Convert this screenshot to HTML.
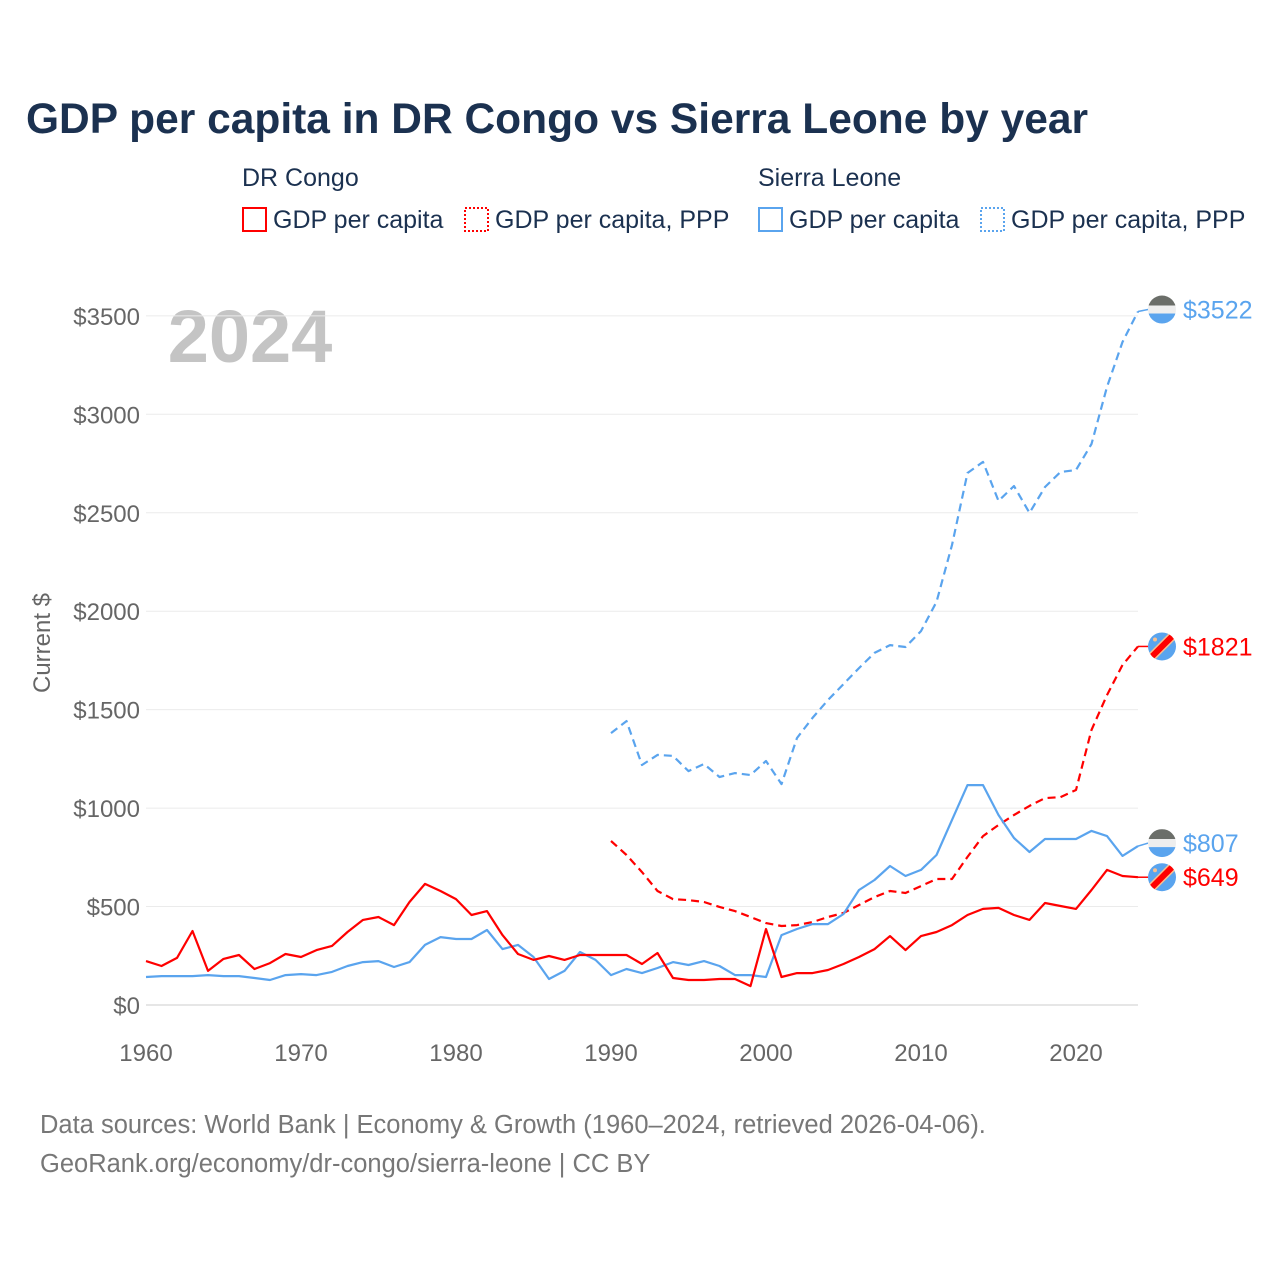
<!DOCTYPE html>
<html><head><meta charset="utf-8"><style>
body{margin:0;background:#fff;font-family:"Liberation Sans",sans-serif;}
svg text{font-family:"Liberation Sans",sans-serif;}
</style></head><body>
<svg width="1280" height="1280" viewBox="0 0 1280 1280" xmlns="http://www.w3.org/2000/svg">
<text x="26" y="133" font-size="42.5" font-weight="bold" fill="#1b3150">GDP per capita in DR Congo vs Sierra Leone by year</text>
<g font-size="25" fill="#1b3150">
<text x="242" y="186">DR Congo</text>
<text x="758" y="186">Sierra Leone</text>
<g><rect x="243" y="208" width="23" height="23" fill="none" stroke="#ff0000" stroke-width="2"/><text x="273" y="228">GDP per capita</text></g>
<g><rect x="465" y="208" width="23" height="23" fill="none" stroke="#ff0000" stroke-width="2" stroke-dasharray="2,2"/><text x="495" y="228">GDP per capita, PPP</text></g>
<g><rect x="759" y="208" width="23" height="23" fill="none" stroke="#5aa4ee" stroke-width="2"/><text x="789" y="228">GDP per capita</text></g>
<g><rect x="981" y="208" width="23" height="23" fill="none" stroke="#5aa4ee" stroke-width="2" stroke-dasharray="2,2"/><text x="1011" y="228">GDP per capita, PPP</text></g>
</g>
<text x="250" y="362" font-size="74" font-weight="bold" fill="#c4c4c4" text-anchor="middle">2024</text>
<text transform="translate(50,643) rotate(-90)" font-size="24" fill="#666" text-anchor="middle">Current $</text>
<g id="grid"></g><g id="yt"></g><g id="xt"></g><g id="lines"></g><g id="ends"></g>
<text x="40" y="1133" font-size="25.5" fill="#777">Data sources: World Bank | Economy &amp; Growth (1960–2024, retrieved 2026-04-06).</text>
<text x="40" y="1172" font-size="25.5" fill="#777">GeoRank.org/economy/dr-congo/sierra-leone | CC BY</text>
</svg>
<script>
const yearsFull=[];for(let y=1960;y<=2024;y++)yearsFull.push(y);
const yearsPPP=[];for(let y=1990;y<=2024;y++)yearsPPP.push(y);
const yTicks=[0,500,1000,1500,2000,2500,3000,3500];
const xTicks=[1960,1970,1980,1990,2000,2010,2020];
const drcGdp=[223,198,239,376,173,234,254,183,213,259,244,279,300,371,432,447,406,523,615,579,538,457,477,355,259,229,249,229,254,254,254,254,208,264,137,127,127,132,132,96,386,142,162,162,178,208,244,284,350,279,350,371,406,457,488,493,457,432,518,503,488,584,686,655,649];
const slGdp=[142,147,147,147,152,147,147,137,127,152,157,152,168,198,218,223,193,218,305,345,335,335,381,284,305,244,132,173,269,229,152,183,162,188,218,203,223,198,152,152,142,355,386,411,411,462,584,635,706,655,686,762,940,1117,1117,965,848,777,843,843,843,884,858,757,807];
const drcPpp=[833,762,675,579,538,533,523,498,477,447,416,401,406,421,447,467,508,548,579,569,604,640,640,752,858,914,965,1011,1051,1056,1092,1397,1574,1727,1821];
const slPpp=[1381,1442,1219,1270,1265,1188,1224,1158,1178,1168,1239,1122,1356,1458,1549,1630,1711,1788,1828,1818,1899,2047,2336,2702,2758,2560,2636,2499,2631,2707,2717,2849,3139,3367,3522];
const X=y=>146+(y-1960)*15.5, Y=v=>1005-v*0.1969;
const NS="http://www.w3.org/2000/svg";
function mk(tag,attrs,parent){const e=document.createElementNS(NS,tag);for(const k in attrs)e.setAttribute(k,attrs[k]);document.getElementById(parent).appendChild(e);return e;}
yTicks.forEach(v=>{
 const l=mk('line',{x1:146,x2:1138,y1:Y(v),y2:Y(v),stroke:v===0?'#e6e6e6':'#ebebeb','stroke-width':v===0?2:1},'grid');
 
 
 const t=mk('text',{x:140,y:Y(v)+9,'font-size':24,fill:'#666','text-anchor':'end'},'yt');
 t.textContent='$'+v;
 
 
});
xTicks.forEach(v=>{
 const t=mk('text',{x:X(v),y:1061,'font-size':24,fill:'#666','text-anchor':'middle'},'xt');
 t.textContent=v;
 
 
});
function line(yrs,vals,color,dash,name){
 const d=vals.map((v,i)=>(i?'L':'M')+X(yrs[i]).toFixed(1)+','+Y(v).toFixed(1)).join('');
 const p=mk('path',{d:d,fill:'none',stroke:color,'stroke-width':2.2,'stroke-linejoin':'round'},'lines');
 if(dash)p.setAttribute('stroke-dasharray','8,5');
 
 
}
line(yearsPPP,slPpp,'#5aa4ee',true,'line-sl-ppp');
line(yearsPPP,drcPpp,'#ff0000',true,'line-drc-ppp');
line(yearsFull,slGdp,'#5aa4ee',false,'line-sl-gdp');
line(yearsFull,drcGdp,'#ff0000',false,'line-drc-gdp');
function end(val,color,flag,name,yOff){
 const cy=Y(val)+yOff, cx=1162;
 const g=mk('g',{},'ends');
 
 
 g.id=name;
 mk('line',{x1:X(2024),x2:cx-14,y1:Y(val),y2:cy,stroke:color,'stroke-width':1.5},name);
 mk('clipPath',{id:'c'+name},name);
 mk('circle',{cx:cx,cy:cy,r:14},'c'+name);
 if(flag==='sl'){
  mk('rect',{x:cx-14,y:cy-14,width:28,height:10,fill:'#6b6e69','clip-path':'url(#c'+name+')'},name);
  mk('rect',{x:cx-14,y:cy-4,width:28,height:8,fill:'#eeeeee','clip-path':'url(#c'+name+')'},name);
  mk('rect',{x:cx-14,y:cy+4,width:28,height:10,fill:'#5aa4ee','clip-path':'url(#c'+name+')'},name);
 }else{
  mk('circle',{cx:cx,cy:cy,r:14,fill:'#5aa4ee'},name);
  mk('line',{x1:cx-14,y1:cy+14,x2:cx+14,y2:cy-14,stroke:'#f8c090','stroke-width':9,'clip-path':'url(#c'+name+')'},name);
  mk('line',{x1:cx-14,y1:cy+14,x2:cx+14,y2:cy-14,stroke:'#ff0000','stroke-width':6,'clip-path':'url(#c'+name+')'},name);
  mk('circle',{cx:cx-7,cy:cy-7,r:2,fill:'#f8c090'},name);
 }
 const t=mk('text',{x:1183,y:cy+9,'font-size':25,fill:color},name);
 t.textContent='$'+val;
}
end(slPpp[slPpp.length-1],'#5aa4ee','sl','end-label-sl-ppp',-2);
end(drcPpp[drcPpp.length-1],'#ff0000','drc','end-label-drc-ppp',0);
end(slGdp[slGdp.length-1],'#5aa4ee','sl','end-label-sl-gdp',-3);
end(drcGdp[drcGdp.length-1],'#ff0000','drc','end-label-drc-gdp',0);
</script>
</body></html>
